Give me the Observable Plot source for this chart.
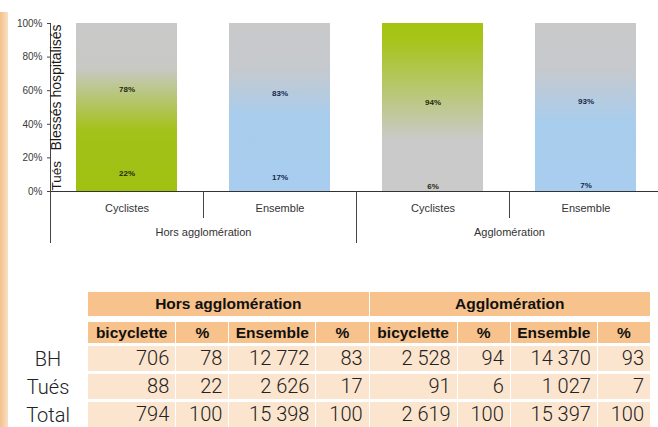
<!DOCTYPE html>
<html><head><meta charset="utf-8">
<script src="https://cdn.jsdelivr.net/npm/d3@7"></script>
<script src="https://cdn.jsdelivr.net/npm/@observablehq/plot@0.6"></script>
<style>
html,body{margin:0;padding:0;background:#fff;}
body{width:658px;height:427px;overflow:hidden;position:relative;font-family:"Liberation Sans",Arial,sans-serif;}
#strip{position:absolute;left:0;top:12px;width:8px;height:415px;background:linear-gradient(to right,#F4C08C,#FBE0C3);z-index:2;}
#chart{position:absolute;left:0;top:0;}
#tbl{position:absolute;left:8px;top:289px;border-collapse:separate;border-spacing:1px 3px;table-layout:fixed;width:643px;}
#tbl td{padding:0;box-sizing:border-box;overflow:hidden;white-space:nowrap;}
#tbl .h1 td.g{background:#F7C28B;font-weight:bold;font-size:15.5px;text-align:center;height:24px;color:#111;}
#tbl .h2 td.c{background:#F7C28B;background-clip:padding-box;border-top:3px solid transparent;font-weight:bold;font-size:15.5px;text-align:center;height:24px;color:#111;}
#tbl .r td.v{background:#FCE5CE;text-align:right;padding-right:6px;font-family:Roboto,"Liberation Sans",sans-serif;font-weight:300;font-size:20px;height:25px;line-height:25px;color:#222;}
#tbl .r td.lab{text-align:center;font-family:Roboto,"Liberation Sans",sans-serif;font-weight:300;font-size:20px;color:#222;}
</style>
</head><body>
<div id="strip"></div>
<div id="chart"></div>
<table id="tbl"></table>
<script>
// ---- data ----
const groupNames = ["Hors agglomération", "Agglomération"];
const categories = ["Cyclistes", "Ensemble"];
const bhPct = [78, 83, 94, 93];
const tuesPct = [22, 17, 6, 7];
const yTicks = [0, 20, 40, 60, 80, 100];

const tableCols = ["bicyclette", "%", "Ensemble", "%"];
const rowLabels = ["BH", "Tués", "Total"];
const bhCounts = [706, 12772, 2528, 14370];
const tuesCounts = [88, 2626, 91, 1027];
const totalCounts = [794, 15398, 2619, 15397];
const totalPct = [100, 100, 100, 100];

// ---- styles ----
const gradStops = {
  "Hors agglomération|Cyclistes": [[0,"#c9c9c9"],[0.27,"#c8c9c4"],[0.64,"#a3c21a"],[1,"#a0c012"]],
  "Hors agglomération|Ensemble": [[0,"#c9c9c9"],[0.27,"#c6c9ce"],[0.55,"#a9cdec"],[1,"#a8cdee"]],
  "Agglomération|Cyclistes": [[0,"#a5c40f"],[0.1,"#a6c419"],[0.7,"#cacaca"],[1,"#cacaca"]],
  "Agglomération|Ensemble": [[0,"#c9c9c9"],[0.27,"#c7c9cd"],[0.58,"#a9cdec"],[1,"#a8cdee"]]
};
const labelColor = {"Cyclistes": "#1f2a0c", "Ensemble": "#15284a"};

// ---- build chart data ----
const bars = [];
const segments = [];
groupNames.forEach((g, gi) => categories.forEach((c, ci) => {
  const i = gi * 2 + ci;
  const key = g + "|" + c;
  bars.push({key, group: g, cat: c, idx: i});
  segments.push({key, group: g, cat: c, idx: i, type: "Tués", value: tuesPct[i]});
  segments.push({key, group: g, cat: c, idx: i, type: "BH", value: bhPct[i]});
}));
const keys = bars.map(d => d.key);
const gradId = k => "grad" + keys.indexOf(k);

const W = 658, H = 250, mL = 50, mR = -4, mT = 23, mB = 59;
const step = (W - mL - mR) / keys.length;

const chart = Plot.plot({
  width: W, height: H,
  marginLeft: mL, marginRight: mR, marginTop: mT, marginBottom: mB,
  style: {fontFamily: "Liberation Sans, Arial, sans-serif", color: "#333", background: "transparent"},
  x: {domain: keys, axis: null, paddingInner: 0.34, paddingOuter: 0.17},
  y: {domain: [0, 100], axis: null},
  color: {type: "identity"},
  marks: [
    Plot.barY(segments, {x: "key", y: "value", fill: d => "url(#" + gradId(d.key) + ")", shapeRendering: "crispEdges"}),
    Plot.text(segments, Plot.stackY({x: "key", y: "value", text: d => d.value + "%",
      fill: d => labelColor[d.cat], fontSize: 8, fontWeight: "bold"})),
    Plot.axisY({ticks: yTicks, tickFormat: d => d + "%", tickSize: 3, tickPadding: 5,
      fontSize: 10, label: null, stroke: "#444", fill: "#3a3a3a"}),
    Plot.ruleY([0], {stroke: "#333", strokeWidth: 1}),
    // left axis line
    Plot.ruleX(bars.filter(d => d.idx === 0), {x: "key", dx: -step / 2, insetBottom: -52, stroke: "#444"}),
    // group separators
    Plot.ruleX(bars.filter(d => d.idx > 0 && d.idx % 2 === 0), {x: "key", dx: -step / 2, insetTop: 168, insetBottom: -52, stroke: "#444"}),
    // category separators
    Plot.ruleX(bars.filter(d => d.idx % 2 === 1), {x: "key", dx: -step / 2, insetTop: 168, insetBottom: -27, stroke: "#444"}),
    Plot.text(bars, {x: "key", text: "cat", frameAnchor: "bottom", dy: 20, fontSize: 11, fill: "#333"}),
    Plot.text(bars.filter(d => d.idx % 2 === 0), {x: "key", text: "group", frameAnchor: "bottom", dx: step / 2, dy: 44, fontSize: 11, fill: "#333"}),
    Plot.text(["Tués"], {text: d => d, frameAnchor: "bottom-left", rotate: -90, textAnchor: "start", dx: 10, dy: -1, fontSize: 13.5, fill: "#1a1a1a"}),
    Plot.text(["Blessés hospitalisés"], {text: d => d, frameAnchor: "bottom-left", rotate: -90, textAnchor: "start", dx: 10, dy: -41, fontSize: 14, fill: "#1a1a1a"})
  ]
});

// gradient defs, in user space spanning the y range so stacked segments share one gradient
const ys = chart.scale("y");
const yTop = ys.apply(100), yBot = ys.apply(0);
const defs = d3.select(chart).insert("defs", ":first-child");
keys.forEach(k => {
  const lg = defs.append("linearGradient").attr("id", gradId(k))
    .attr("gradientUnits", "userSpaceOnUse")
    .attr("x1", 0).attr("x2", 0).attr("y1", yTop).attr("y2", yBot);
  gradStops[k].forEach(([o, c]) => lg.append("stop").attr("offset", o).attr("stop-color", c));
});
document.getElementById("chart").appendChild(chart);

// ---- table ----
const fmt = d3.formatLocale({decimal: ",", thousands: "\u00a0", grouping: [3], currency: ["", ""]}).format(",d");
const tbl = d3.select("#tbl");
const cg = tbl.append("colgroup");
[78, 87, 52, 86, 52, 87, 52, 86, 52].forEach(w => cg.append("col").style("width", w + "px"));
const r1 = tbl.append("tr").attr("class", "h1");
r1.append("td");
groupNames.forEach(g => r1.append("td").attr("class", "g").attr("colspan", 4).text(g));
const r2 = tbl.append("tr").attr("class", "h2");
r2.append("td");
groupNames.forEach(() => tableCols.forEach(c => r2.append("td").attr("class", "c").text(c)));
const rowsData = [[bhCounts, bhPct], [tuesCounts, tuesPct], [totalCounts, totalPct]];
rowsData.forEach(([counts, pcts], ri) => {
  const tr = tbl.append("tr").attr("class", "r");
  tr.append("td").attr("class", "lab").text(rowLabels[ri]);
  groupNames.forEach((g, gi) => {
    [0, 1].forEach(ci => {
      const i = gi * 2 + ci;
      tr.append("td").attr("class", "v").text(fmt(counts[i]));
      tr.append("td").attr("class", "v").text(fmt(pcts[i]));
    });
  });
});
</script>
</body></html>
